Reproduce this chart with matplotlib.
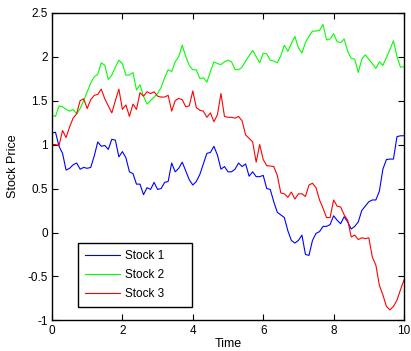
import numpy as np
import matplotlib
matplotlib.use("Agg")
import matplotlib.pyplot as plt
from matplotlib.ticker import FuncFormatter

plt.rcParams["font.family"] = ["Liberation Sans", "DejaVu Sans"]
plt.rcParams["axes.unicode_minus"] = False

# time axis: 0..10 step 0.1
time = np.round(np.arange(0, 10.01, 0.1), 1)

stock1 = [1.13, 1.14, 0.98, 0.90, 0.71, 0.73, 0.77, 0.79, 0.72, 0.74,
          0.73, 0.74, 0.87, 1.03, 0.98, 0.99, 0.945, 1.06, 1.05, 0.86,
          0.92, 0.85, 0.69, 0.67, 0.55, 0.55, 0.43, 0.51, 0.49, 0.57,
          0.49, 0.50, 0.57, 0.58, 0.79, 0.69, 0.73, 0.80, 0.70, 0.60,
          0.54, 0.58, 0.66, 0.78, 0.90, 0.91, 0.98, 0.88, 0.72, 0.75,
          0.69, 0.69, 0.72, 0.79, 0.75, 0.78, 0.64, 0.69, 0.635, 0.635,
          0.65, 0.50, 0.49, 0.35, 0.23, 0.20, 0.17, 0.02, -0.09, -0.12,
          -0.09, -0.03, -0.25, -0.26, -0.09, -0.01, 0.01, 0.07, 0.07, 0.09,
          0.19, 0.14, 0.10, 0.18, 0.12, 0.04, 0.07, 0.12, 0.25, 0.30,
          0.35, 0.37, 0.37, 0.47, 0.72, 0.83, 0.835, 0.835, 1.09, 1.10,
          1.10]

stock2 = [1.335, 1.32, 1.44, 1.43, 1.40, 1.38, 1.40, 1.35, 1.41, 1.50,
          1.60, 1.70, 1.77, 1.80, 1.93, 1.90, 1.74, 1.79, 1.88, 1.96,
          1.92, 1.79, 1.79, 1.82, 1.62, 1.68, 1.55, 1.46, 1.50, 1.54,
          1.58, 1.65, 1.76, 1.85, 1.83, 1.94, 2.00, 2.13, 2.00, 1.90,
          1.85, 1.85, 1.75, 1.76, 1.71, 1.83, 1.94, 1.92, 1.91, 1.94,
          1.96, 1.94, 1.855, 1.85, 1.88, 1.95, 2.01, 2.07, 2.00, 1.93,
          2.04, 2.03, 1.96, 1.95, 1.93, 2.01, 2.13, 2.06, 2.15, 2.23,
          2.10, 2.04, 2.16, 2.23, 2.29, 2.29, 2.30, 2.365, 2.19, 2.20,
          2.26, 2.17, 2.16, 2.20, 2.06, 1.98, 1.97, 1.82, 1.97, 2.02,
          1.97, 1.92, 1.865, 1.94, 1.90, 1.99, 2.08, 2.18, 2.00, 1.88,
          1.885]

stock3 = [1.00, 1.00, 0.99, 1.16, 1.08, 1.20, 1.30, 1.35, 1.50, 1.52,
          1.41, 1.51, 1.56, 1.57, 1.63, 1.52, 1.44, 1.36, 1.50, 1.63,
          1.40, 1.45, 1.32, 1.46, 1.40, 1.59, 1.55, 1.60, 1.58, 1.60,
          1.55, 1.54, 1.54, 1.56, 1.38, 1.50, 1.525, 1.51, 1.43, 1.44,
          1.61, 1.42, 1.39, 1.38, 1.31, 1.36, 1.26, 1.34, 1.58, 1.32,
          1.31, 1.31, 1.30, 1.32, 1.27, 1.11, 1.07, 1.03, 0.80, 1.00,
          0.83, 0.76, 0.756, 0.75, 0.65, 0.45, 0.44, 0.40, 0.46, 0.38,
          0.44, 0.44, 0.41, 0.54, 0.56, 0.51, 0.37, 0.275, 0.17, 0.17,
          0.37, 0.30, 0.29, 0.20, 0.14, -0.05, -0.03, -0.08, -0.06, -0.07,
          -0.06, -0.28, -0.37, -0.60, -0.71, -0.84, -0.88, -0.84, -0.77, -0.65,
          -0.54]

labels = ["Stock 1", "Stock 2", "Stock 3"]
colors = ["#0000ff", "#00ff00", "#ff0000"]

fig = plt.figure(figsize=(4.11, 3.51), dpi=100)
ax = fig.add_axes([0.1265, 0.087, 0.8565, 0.877])

for series, lab, col in zip([stock1, stock2, stock3], labels, colors):
    ax.plot(time, series, color=col, linewidth=0.8, label=lab)

ax.set_xlim(0, 10)
ax.set_ylim(-1, 2.5)
ax.set_xticks(np.arange(0, 11, 2))
ax.set_yticks(np.arange(-1, 2.51, 0.5))
ax.yaxis.set_major_formatter(FuncFormatter(lambda v, p: "%g" % v))
ax.tick_params(direction="in", length=4, width=0.8, top=True, right=True,
               labelsize=8.5, pad=3)
for sp in ax.spines.values():
    sp.set_linewidth(1.0)

ax.set_xlabel("Time", fontsize=9, labelpad=1)
ax.set_ylabel("Stock Price", fontsize=9, labelpad=6)

# matlab-like legend box: wide frame, short handles
leg = ax.legend(loc="lower left", bbox_to_anchor=(0.074, 0.044, 0.324, 0.2),
                mode="expand", fontsize=8.5, fancybox=False, framealpha=1,
                edgecolor="black", borderaxespad=0, handlelength=3.0,
                handletextpad=0.45, borderpad=0.55, labelspacing=0.62)
leg.get_frame().set_linewidth(1.0)

fig.savefig("out.png", dpi=100)
